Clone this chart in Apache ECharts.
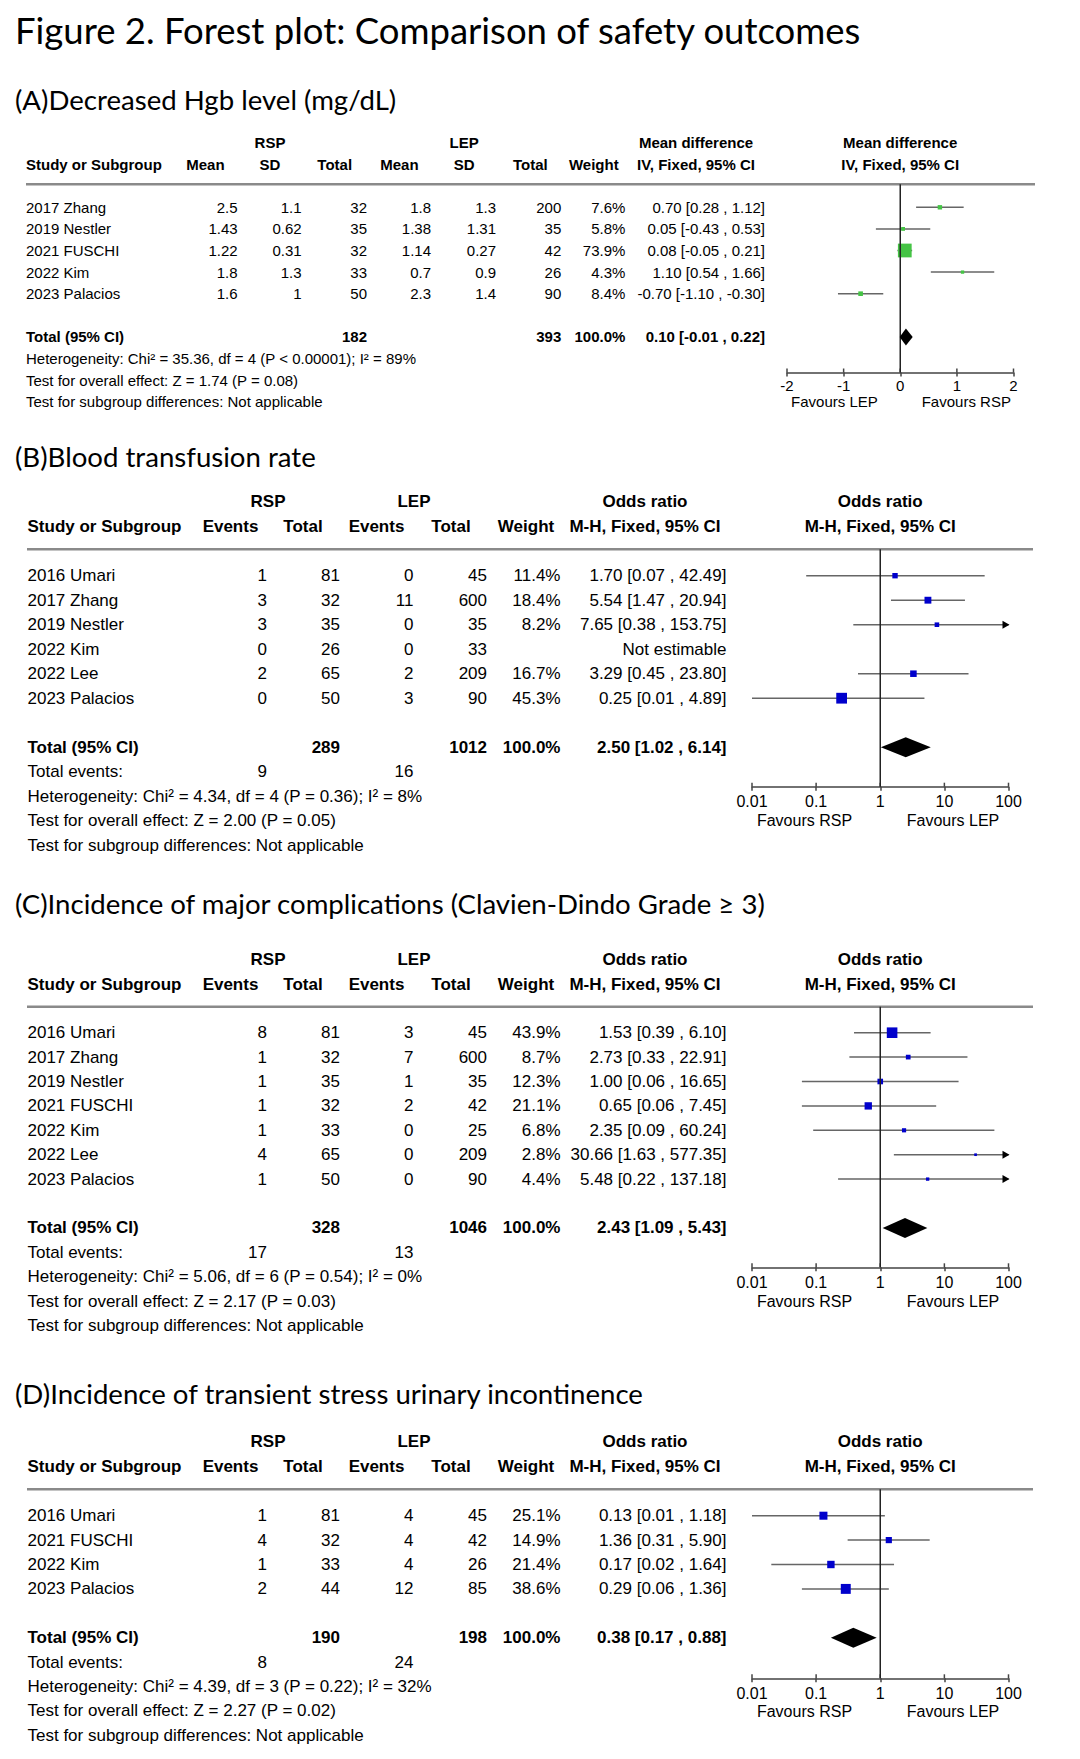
<!DOCTYPE html>
<html><head><meta charset="utf-8">
<script src="https://cdn.jsdelivr.net/npm/echarts@6/dist/echarts.min.js"></script>
<style>html,body{margin:0;padding:0;background:#fff}#c{width:1080px;height:1759px}</style>
</head><body><div id="c"></div>
<script>
// ---------------- DATA ----------------
const titleText = 'Figure 2. Forest plot: Comparison of safety outcomes';
const headingTexts = ['(A)Decreased Hgb level (mg/dL)', '(B)Blood transfusion rate',
  '(C)Incidence of major complications (Clavien-Dindo Grade \u2265 3)',
  '(D)Incidence of transient stress urinary incontinence'];
const tickLabelsMD = ['-2', '-1', '0', '1', '2'];
const tickLabelsOR = ['0.01', '0.1', '1', '10', '100'];

// Panel A: Decreased Hgb level
const studiesA = ['2017 Zhang', '2019 Nestler', '2021 FUSCHI', '2022 Kim', '2023 Palacios'];
const rspMeanA = ['2.5', '1.43', '1.22', '1.8', '1.6'];
const rspSdA = ['1.1', '0.62', '0.31', '1.3', '1'];
const rspTotalA = [32, 35, 32, 33, 50];
const lepMeanA = ['1.8', '1.38', '1.14', '0.7', '2.3'];
const lepSdA = ['1.3', '1.31', '0.27', '0.9', '1.4'];
const lepTotalA = [200, 35, 42, 26, 90];
const weightA = [7.6, 5.8, 73.9, 4.3, 8.4];
const estA = [0.70, 0.05, 0.08, 1.10, -0.70];
const lowA = [0.28, -0.43, -0.05, 0.54, -1.10];
const highA = [1.12, 0.53, 0.21, 1.66, -0.30];
const totalsA = [182, 393];
const pooledA = [0.10, -0.01, 0.22];
const statsA = ['Heterogeneity: Chi\u00b2 = 35.36, df = 4 (P < 0.00001); I\u00b2 = 89%',
  'Test for overall effect: Z = 1.74 (P = 0.08)', 'Test for subgroup differences: Not applicable'];

// Panel B: Blood transfusion rate
const studiesB = ['2016 Umari', '2017 Zhang', '2019 Nestler', '2022 Kim', '2022 Lee', '2023 Palacios'];
const rspEventsB = [1, 3, 3, 0, 2, 0];
const rspTotalB = [81, 32, 35, 26, 65, 50];
const lepEventsB = [0, 11, 0, 0, 2, 3];
const lepTotalB = [45, 600, 35, 33, 209, 90];
const weightB = [11.4, 18.4, 8.2, null, 16.7, 45.3];
const estB = [1.70, 5.54, 7.65, null, 3.29, 0.25];
const lowB = [0.07, 1.47, 0.38, null, 0.45, 0.01];
const highB = [42.49, 20.94, 153.75, null, 23.80, 4.89];
const totalsB = [289, 1012];
const eventsB = [9, 16];
const pooledB = [2.50, 1.02, 6.14];
const statsB = ['Heterogeneity: Chi\u00b2 = 4.34, df = 4 (P = 0.36); I\u00b2 = 8%',
  'Test for overall effect: Z = 2.00 (P = 0.05)', 'Test for subgroup differences: Not applicable'];

// Panel C: Major complications
const studiesC = ['2016 Umari', '2017 Zhang', '2019 Nestler', '2021 FUSCHI', '2022 Kim', '2022 Lee', '2023 Palacios'];
const rspEventsC = [8, 1, 1, 1, 1, 4, 1];
const rspTotalC = [81, 32, 35, 32, 33, 65, 50];
const lepEventsC = [3, 7, 1, 2, 0, 0, 0];
const lepTotalC = [45, 600, 35, 42, 25, 209, 90];
const weightC = [43.9, 8.7, 12.3, 21.1, 6.8, 2.8, 4.4];
const estC = [1.53, 2.73, 1.00, 0.65, 2.35, 30.66, 5.48];
const lowC = [0.39, 0.33, 0.06, 0.06, 0.09, 1.63, 0.22];
const highC = [6.10, 22.91, 16.65, 7.45, 60.24, 577.35, 137.18];
const totalsC = [328, 1046];
const eventsC = [17, 13];
const pooledC = [2.43, 1.09, 5.43];
const statsC = ['Heterogeneity: Chi\u00b2 = 5.06, df = 6 (P = 0.54); I\u00b2 = 0%',
  'Test for overall effect: Z = 2.17 (P = 0.03)', 'Test for subgroup differences: Not applicable'];

// Panel D: Transient stress urinary incontinence
const studiesD = ['2016 Umari', '2021 FUSCHI', '2022 Kim', '2023 Palacios'];
const rspEventsD = [1, 4, 1, 2];
const rspTotalD = [81, 32, 33, 44];
const lepEventsD = [4, 4, 4, 12];
const lepTotalD = [45, 42, 26, 85];
const weightD = [25.1, 14.9, 21.4, 38.6];
const estD = [0.13, 1.36, 0.17, 0.29];
const lowD = [0.01, 0.31, 0.02, 0.06];
const highD = [1.18, 5.90, 1.64, 1.36];
const totalsD = [190, 198];
const eventsD = [8, 24];
const pooledD = [0.38, 0.17, 0.88];
const statsD = ['Heterogeneity: Chi\u00b2 = 4.39, df = 3 (P = 0.22); I\u00b2 = 32%',
  'Test for overall effect: Z = 2.27 (P = 0.02)', 'Test for subgroup differences: Not applicable'];

// ---------------- LAYOUT ----------------
const TF = '"Liberation Sans", Arial, Helvetica, sans-serif';
const HF = 'Lato, "Open Sans", sans-serif';
const TITLE = {x: 15, y: 30, size: 36.5};
const HEAD_SIZE = 27.6;

const layoutA = {heading: 99, h1: 142.7, h2: 164.3, line: 184.3, row0: 207.3, step: 21.6, axis: 372.5,
  plotL: 787, plotR: 1013.5, lineL: 26, lineR: 1035, font: 15, labelMargin: 5, fav: 401,
  favX: [834.4, 966.3], name: 26,
  cols: [237.6, 301.6, 367, 431, 496, 561.3, 625.4, 765],
  h1Items: [['RSP', 270], ['LEP', 464.2], ['Mean difference', 696], ['Mean difference', 900.2]],
  h2Items: [['Mean', 205.4], ['SD', 270], ['Total', 334.7], ['Mean', 399.4], ['SD', 464.2], ['Total', 530.3], ['Weight', 593.8], ['IV, Fixed, 95% CI', 696], ['IV, Fixed, 95% CI', 900.2]],
  favText: ['Favours LEP', 'Favours RSP'], color: '#45c445', diamondH: 17};
const layoutBCD = {cols: [267, 340, 413.5, 487, 560.5, 726.5], name: 27.5, plotL: 752, plotR: 1008.5,
  lineL: 27, lineR: 1033, font: 17, labelMargin: 7, favX: [804.5, 953],
  h1Items: [['RSP', 268], ['LEP', 414], ['Odds ratio', 645], ['Odds ratio', 880.2]],
  h2Items: [['Events', 230.5], ['Total', 303], ['Events', 376.5], ['Total', 451], ['Weight', 526], ['M-H, Fixed, 95% CI', 645], ['M-H, Fixed, 95% CI', 880.2]],
  favText: ['Favours RSP', 'Favours LEP'], color: '#0000cc', diamondH: 20};
const layoutB = Object.assign({}, layoutBCD, {heading: 456, h1: 501.7, h2: 526.7, line: 549.3, row0: 575.7, step: 24.5, axis: 786.7, fav: 820});
const layoutC = Object.assign({}, layoutBCD, {heading: 903.3, h1: 959.3, h2: 984.3, line: 1006.7, row0: 1032.7, step: 24.4, axis: 1267.3, fav: 1301});
const layoutD = Object.assign({}, layoutBCD, {heading: 1393, h1: 1441.7, h2: 1466.7, line: 1489.3, row0: 1515.7, step: 24.4, axis: 1678.3, fav: 1711.7});

// ---------------- BUILD ----------------
const f2 = v => v.toFixed(2);
const ciText = (e, l, h) => f2(e) + ' [' + f2(l) + ' , ' + f2(h) + ']';
const g = [];
function txt(x, y, text, o) {
  o = o || {};
  const al = o.align || 'left';
  g.push({type: 'text', x: x, y: y, silent: true, z: 10,
    style: {text: String(text), align: al, textAlign: al, verticalAlign: 'middle', textVerticalAlign: 'middle',
      fontSize: o.size, fontFamily: o.family || TF, fontWeight: o.bold ? 'bold' : 'normal', fill: o.color || '#000'}});
}
txt(TITLE.x, TITLE.y, titleText, {size: TITLE.size, family: HF});

const grids = [], xAxes = [], yAxes = [], series = [];

function panel(pi, L, isLog, rowsCells, est, low, high, weight, totalCells, pooled, eventsCells, stats, headingText) {
  const fs = L.font;
  const afs = fs === 15 ? 15 : 16;
  txt(15, L.heading, headingText, {size: HEAD_SIZE, family: HF});
  L.h1Items.forEach(it => txt(it[1], L.h1, it[0], {size: fs, bold: true, align: 'center'}));
  txt(L.name, L.h2, 'Study or Subgroup', {size: fs, bold: true});
  L.h2Items.forEach(it => txt(it[1], L.h2, it[0], {size: fs, bold: true, align: 'center'}));
  g.push({type: 'line', silent: true, shape: {x1: L.lineL, y1: L.line, x2: L.lineR, y2: L.line}, style: {stroke: '#8a8a8a', lineWidth: 2.5}});
  const n = rowsCells.length;
  const rowY = i => L.row0 + i * L.step;
  rowsCells.forEach((cells, i) => {
    txt(L.name, rowY(i), cells[0], {size: fs});
    for (let c = 1; c < cells.length; c++) {
      if (cells[c] !== '') txt(L.cols[c - 1], rowY(i), cells[c], {size: fs, align: 'right'});
    }
  });
  const ti = n + 1;
  txt(L.name, rowY(ti), 'Total (95% CI)', {size: fs, bold: true});
  totalCells.forEach(tc => txt(L.cols[tc[0]], rowY(ti), tc[1], {size: fs, bold: true, align: 'right'}));
  let k = ti + 1;
  if (eventsCells) {
    txt(L.name, rowY(k), 'Total events:', {size: fs});
    eventsCells.forEach(ec => txt(L.cols[ec[0]], rowY(k), ec[1], {size: fs, align: 'right'}));
    k++;
  }
  stats.forEach(s => { txt(L.name, rowY(k), s, {size: fs}); k++; });
  txt(L.favX[0], L.fav, L.favText[0], {size: afs, align: 'center'});
  txt(L.favX[1], L.fav, L.favText[1], {size: afs, align: 'center'});

  const yMin = (L.line - L.row0) / L.step, yMax = (L.axis - L.row0) / L.step;
  grids.push({left: L.plotL, top: L.line, width: L.plotR - L.plotL, height: L.axis - L.line, containLabel: false});
  const xmin = isLog ? 0.01 : -2, xmax = isLog ? 100 : 2;
  const labels = isLog ? tickLabelsOR : tickLabelsMD;
  const fmt = v => isLog ? labels[Math.round(Math.log10(v)) + 2] : labels[Math.round(v) + 2];
  const base = {gridIndex: pi, type: isLog ? 'log' : 'value', min: xmin, max: xmax, position: 'bottom', splitLine: {show: false}};
  if (isLog) { base.logBase = 10; base.splitNumber = 4; } else { base.interval = 1; }
  xAxes.push(Object.assign({}, base, {
    axisLine: {show: true, onZero: false, lineStyle: {color: '#444', width: 1.5}},
    axisTick: {show: true, inside: false, length: 4, lineStyle: {color: '#444', width: 1.5}},
    axisLabel: {show: true, margin: L.labelMargin, fontSize: afs, fontFamily: TF, color: '#000', formatter: fmt, showMinLabel: true, showMaxLabel: true}
  }));
  yAxes.push({gridIndex: pi, type: 'value', inverse: true, min: yMin, max: yMax, show: false});
  const ref = isLog ? 1 : 0;
  series.push({type: 'line', xAxisIndex: pi, yAxisIndex: pi, data: [[ref, yMin], [ref, yMax]], symbol: 'none', silent: true,
    lineStyle: {color: '#222', width: 1.5}, z: 4, animation: false});
  // upward half of tick marks (ticks cross the axis line)
  series.push({type: 'custom', xAxisIndex: pi, yAxisIndex: pi, data: labels.map(l => [Number(l), yMax]), clip: false, silent: true, z: 4, animation: false,
    encode: {x: 0, y: 1},
    renderItem: function (params, api) {
      const p = api.coord([api.value(0), api.value(1)]);
      return {type: 'line', shape: {x1: p[0], y1: p[1], x2: p[0], y2: p[1] - 4}, style: {stroke: '#444', lineWidth: 1.5}};
    }
  });
  const ciData = [];
  est.forEach((e, i) => { if (e !== null) ciData.push([e, i, low[i], high[i], weight[i]]); });
  series.push({type: 'custom', xAxisIndex: pi, yAxisIndex: pi, data: ciData, clip: false, silent: true, z: 3, animation: false,
    encode: {x: [0, 2, 3], y: 1},
    renderItem: function (params, api) {
      const e = api.value(0), r = api.value(1), lo = api.value(2), hi = api.value(3), w = api.value(4);
      const p1 = api.coord([Math.max(lo, xmin), r]);
      const p2 = api.coord([Math.min(hi, xmax), r]);
      const pc = api.coord([e, r]);
      const s = Math.max(2.5, 1.6 * Math.sqrt(w));
      const ch = [{type: 'line', shape: {x1: p1[0], y1: p1[1], x2: p2[0], y2: p2[1]}, style: {stroke: '#666', lineWidth: 1.5}}];
      if (hi > xmax) ch.push({type: 'polygon', shape: {points: [[p2[0] + 1, p2[1]], [p2[0] - 6, p2[1] - 4], [p2[0] - 6, p2[1] + 4]]}, style: {fill: '#000'}});
      if (lo < xmin) ch.push({type: 'polygon', shape: {points: [[p1[0] - 1, p1[1]], [p1[0] + 6, p1[1] - 4], [p1[0] + 6, p1[1] + 4]]}, style: {fill: '#000'}});
      ch.push({type: 'rect', shape: {x: pc[0] - s / 2, y: pc[1] - s / 2, width: s, height: s}, style: {fill: L.color}});
      return {type: 'group', children: ch};
    }
  });
  series.push({type: 'custom', xAxisIndex: pi, yAxisIndex: pi, data: [[pooled[0], ti, pooled[1], pooled[2]]], clip: false, silent: true, z: 5, animation: false,
    encode: {x: [0, 2, 3], y: 1},
    renderItem: function (params, api) {
      const e = api.value(0), r = api.value(1), lo = api.value(2), hi = api.value(3);
      const pl = api.coord([lo, r]), pc = api.coord([e, r]), ph = api.coord([hi, r]);
      const h = L.diamondH / 2;
      return {type: 'polygon', shape: {points: [[pl[0], pl[1]], [pc[0], pc[1] - h], [ph[0], ph[1]], [pc[0], pc[1] + h]]}, style: {fill: '#000'}};
    }
  });
}

const rowsA = studiesA.map((s, i) => [s, rspMeanA[i], rspSdA[i], rspTotalA[i], lepMeanA[i], lepSdA[i], lepTotalA[i],
  weightA[i].toFixed(1) + '%', ciText(estA[i], lowA[i], highA[i])]);
panel(0, layoutA, false, rowsA, estA, lowA, highA, weightA,
  [[2, totalsA[0]], [5, totalsA[1]], [6, '100.0%'], [7, ciText(pooledA[0], pooledA[1], pooledA[2])]], pooledA, null, statsA, headingTexts[0]);

function orRows(studies, re, rt, le, lt, w, e, l, h) {
  return studies.map((s, i) => [s, re[i], rt[i], le[i], lt[i], w[i] === null ? '' : w[i].toFixed(1) + '%',
    e[i] === null ? 'Not estimable' : ciText(e[i], l[i], h[i])]);
}
function orTotals(t, p) { return [[1, t[0]], [3, t[1]], [4, '100.0%'], [5, ciText(p[0], p[1], p[2])]]; }
function orEvents(ev) { return [[0, ev[0]], [2, ev[1]]]; }

panel(1, layoutB, true, orRows(studiesB, rspEventsB, rspTotalB, lepEventsB, lepTotalB, weightB, estB, lowB, highB),
  estB, lowB, highB, weightB, orTotals(totalsB, pooledB), pooledB, orEvents(eventsB), statsB, headingTexts[1]);
panel(2, layoutC, true, orRows(studiesC, rspEventsC, rspTotalC, lepEventsC, lepTotalC, weightC, estC, lowC, highC),
  estC, lowC, highC, weightC, orTotals(totalsC, pooledC), pooledC, orEvents(eventsC), statsC, headingTexts[2]);
panel(3, layoutD, true, orRows(studiesD, rspEventsD, rspTotalD, lepEventsD, lepTotalD, weightD, estD, lowD, highD),
  estD, lowD, highD, weightD, orTotals(totalsD, pooledD), pooledD, orEvents(eventsD), statsD, headingTexts[3]);

const chart = echarts.init(document.getElementById('c'), null, {renderer: 'svg', width: 1080, height: 1759});
chart.setOption({
  animation: false,
  backgroundColor: '#fff',
  grid: grids, xAxis: xAxes, yAxis: yAxes, series: series,
  graphic: {elements: g}
});
</script>
</body></html>
